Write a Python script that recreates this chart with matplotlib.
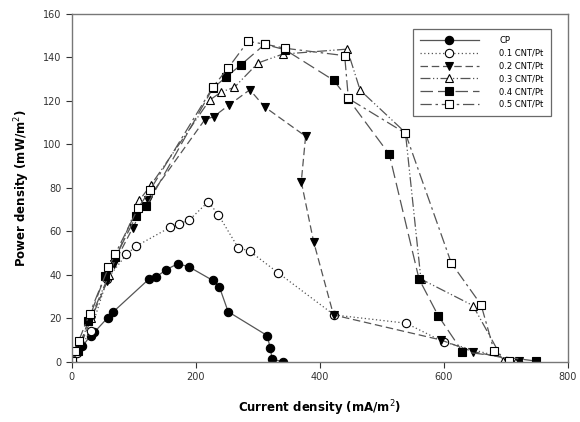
import numpy as np
import matplotlib
matplotlib.use("Agg")
import matplotlib.pyplot as plt

# data
cp_x = [0, 17, 30, 36, 58, 67, 125, 136, 152, 171, 189, 227, 238, 252, 315, 320, 323, 340]
cp_y = [0, 7, 12, 13.5, 20.3, 23, 38.2, 39, 42.3, 45.1, 43.6, 37.4, 34.3, 23, 12, 6.2, 1.1, 0]

c01_x = [0, 8, 30, 57, 88, 104, 159, 172, 189, 220, 236, 268, 287, 333, 423, 539, 600, 720]
c01_y = [0, 4, 14, 38, 49.4, 53.2, 61.9, 63.4, 65.1, 73.6, 67.7, 52.5, 50.8, 40.8, 21.5, 17.7, 9, 0]

c02_x = [0, 12, 30, 57, 68, 98, 122, 214, 229, 253, 287, 311, 377, 370, 390, 422, 595, 647, 722]
c02_y = [0, 6, 19, 37, 45, 61.5, 74.6, 111.2, 112.8, 118, 125.1, 117.2, 103.7, 82.8, 55.1, 21.5, 10, 4.6, 0.3]

c03_x = [0, 10, 30, 60, 109, 128, 222, 241, 262, 300, 340, 444, 465, 538, 563, 647, 696]
c03_y = [0, 6, 20, 40, 74.3, 81.5, 120.3, 124.1, 126.2, 137.4, 141.5, 143.8, 124.9, 105.4, 38, 25.8, 0.5]

c04_x = [0, 10, 26, 53, 70, 104, 120, 227, 248, 272, 311, 344, 422, 446, 512, 560, 591, 630, 748]
c04_y = [0, 5, 18.5, 39.2, 48, 67.2, 71.5, 125.7, 130.8, 136.4, 146, 143.5, 129.5, 120.8, 95.4, 38, 21.1, 4.6, 0.3]

c05_x = [0, 5.5, 11, 28.5, 59, 70, 107, 126, 228, 252, 284, 311, 344, 440, 446, 538, 612, 660, 681, 705]
c05_y = [0.5, 4.9, 9.6, 22, 43.4, 49.6, 70.8, 78.9, 126.6, 135.1, 147.4, 146.1, 144.2, 140.8, 121.1, 105.1, 45.4, 26.2, 5.1, 0.3]

series = [
    ("CP", cp_x, cp_y, "-", "o", "black"),
    ("0.1 CNT/Pt", c01_x, c01_y, (0, (1, 2)), "o", "white"),
    ("0.2 CNT/Pt", c02_x, c02_y, (0, (6, 3)), "v", "black"),
    ("0.3 CNT/Pt", c03_x, c03_y, (0, (8, 2, 1, 2, 1, 2)), "^", "white"),
    ("0.4 CNT/Pt", c04_x, c04_y, (0, (10, 4)), "s", "black"),
    ("0.5 CNT/Pt", c05_x, c05_y, (0, (9, 3, 2, 3)), "s", "white"),
]

fig = plt.figure(figsize=(5.8, 4.22), dpi=100)
ax = fig.add_axes([0.124, 0.143, 0.855, 0.824])

for label, x, y, ls, mk, fc in series:
    ax.plot(x, y, linestyle=ls, color="#555555", linewidth=0.9,
            marker=mk, markersize=6, markerfacecolor=fc,
            markeredgecolor="black", markeredgewidth=0.8, label=label)

ax.set_xlim(0, 800)
ax.set_ylim(0, 160)
ax.set_xticks(np.arange(0, 801, 200))
ax.set_yticks(np.arange(0, 161, 20))
ax.tick_params(labelsize=7, colors="#333333", direction="out", length=4, width=0.8)
for s in ax.spines.values():
    s.set_color("#777777")
    s.set_linewidth(1.0)

ax.set_xlabel("Current density (mA/m$^2$)", fontsize=8.5, fontweight="bold", labelpad=12)
ax.set_ylabel("Power density (mW/m$^2$)", fontsize=8.5, fontweight="bold", labelpad=8)

leg = ax.legend(loc="upper right", bbox_to_anchor=(0.975, 0.97), fontsize=6,
                handlelength=7, frameon=True, fancybox=False, edgecolor="#444444",
                borderpad=0.9, labelspacing=0.45, handletextpad=2.5)
leg.get_frame().set_linewidth(0.9)

fig.savefig("out.png", dpi=100)
